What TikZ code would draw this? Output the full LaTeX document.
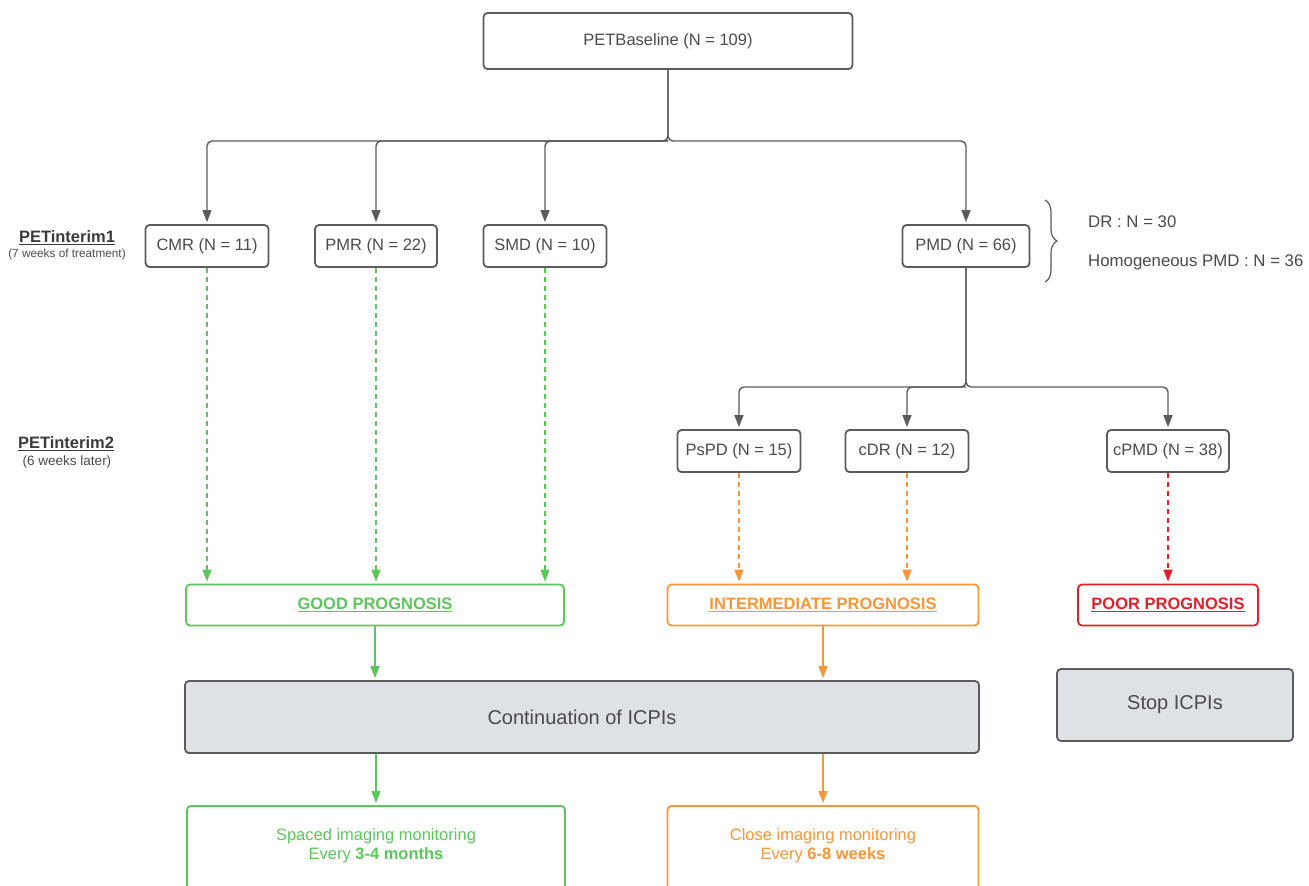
\documentclass[tikz,border=0pt]{standalone}
\usepackage{fontspec}
\setmainfont{Liberation Sans}
\usepackage{xcolor}
\usetikzlibrary{positioning,arrows.meta,calc,decorations.pathreplacing}
\definecolor{linegrey}{HTML}{5B5B5B}
\definecolor{txtgrey}{HTML}{4A4A4A}
\definecolor{goodgreen}{HTML}{5CC65C}
\definecolor{midorange}{HTML}{F7963A}
\definecolor{poorred}{HTML}{E0212B}
\definecolor{panelfill}{HTML}{DEE2E7}
\newcommand{\fs}[1]{\fontsize{#1}{1.2\dimexpr #1pt\relax}\selectfont}

\begin{document}
\begin{tikzpicture}[x=1pt,y=-1pt,
   tip/.style={-{Triangle[length=12pt,width=9pt]},shorten >=2pt},
   conn/.style={draw=linegrey,line width=1.4pt,rounded corners=5pt},
   dashconn/.style={line width=1.4pt,dash pattern=on 5pt off 4pt},
   stagebox/.style={draw=linegrey,line width=1.8pt,rounded corners=4pt,text=txtgrey,
     inner sep=0pt,minimum height=42pt,font=\fs{16.5}},
   progbox/.style={line width=1.8pt,rounded corners=4pt,inner sep=0pt,
     minimum height=41pt,font=\bfseries\fs{16.5}},
   icpibox/.style={draw=linegrey,fill=panelfill,line width=1.8pt,rounded corners=4pt,
     text=txtgrey,inner sep=0pt,minimum height=72pt,font=\fs{20}},
   monbox/.style={line width=1.8pt,rounded corners=4pt,inner sep=0pt,
     minimum height=110pt,anchor=north},
   montext/.style={align=center,font=\fs{16.5},text depth=0pt},
   sidetext/.style={anchor=west,text=txtgrey,font=\fs{16.8},inner sep=0pt}]
  \clip (0,0) rectangle (1309,886);

  % stage labels on the left
  \node[text=txtgrey!80!black,font=\bfseries\fs{16.5}] (int1) at (67,238) {\underline{PETinterim1}};
  \node[text=txtgrey,font=\fs{11.8}] (int1note) at (67,254) {(7 weeks of treatment)};
  \node[text=txtgrey!80!black,font=\bfseries\fs{16.5}] (int2) at (66,444) {\underline{PETinterim2}};
  \node[text=txtgrey,font=\fs{13.5}] (int2note) at (67,462) {(6 weeks later)};

  % boxes
  \node[stagebox,minimum width=369pt,minimum height=56pt] (base) at (668,41) {PETBaseline (N = 109)};
  \node[stagebox,minimum width=123pt] (cmr) at (207,246) {CMR (N = 11)};
  \node[stagebox,minimum width=122pt] (pmr) at (376,246) {PMR (N = 22)};
  \node[stagebox,minimum width=123pt] (smd) at (545,246) {SMD (N = 10)};
  \node[stagebox,minimum width=127pt] (pmd) at (966,246) {PMD (N = 66)};
  \node[stagebox,minimum width=123pt] (pspd) at (739,451) {PsPD (N = 15)};
  \node[stagebox,minimum width=123pt] (cdr) at (907,451) {cDR (N = 12)};
  \node[stagebox,minimum width=122pt] (cpmd) at (1168,451) {cPMD (N = 38)};

  \node[progbox,draw=goodgreen,text=goodgreen,minimum width=378pt] (good) at (375,605) {\underline{GOOD PROGNOSIS}};
  \node[progbox,draw=midorange,text=midorange,minimum width=311pt] (inter) at (823,605) {\underline{INTERMEDIATE PROGNOSIS}};
  \node[progbox,draw=poorred,text=poorred,minimum width=180pt] (poor) at (1168,605) {\underline{POOR PROGNOSIS}};

  \node[icpibox,minimum width=794pt] (cont) at (582,717) {Continuation of ICPIs};
  \node[icpibox,minimum width=236pt] (stop) at (1175,705) {Stop ICPIs};

  \node[monbox,draw=goodgreen,minimum width=378pt] (spaced) at (376,805) {};
  \node[montext,text=goodgreen] (spacedtxt) at (376,844) {Spaced imaging monitoring\\Every \textbf{3-4 months}};
  \node[monbox,draw=midorange,minimum width=311pt] (close) at (823,805) {};
  \node[montext,text=midorange] (closetxt) at (823,844) {Close imaging monitoring\\Every \textbf{6-8 weeks}};

  % PMD subgroups
  \coordinate (bracetop) at (1045,200);
  \coordinate (bracebot) at (1045,282);
  \draw[linegrey,line width=1.2pt,decorate,decoration={brace,amplitude=12pt}] (bracetop) -- (bracebot);
  \node[sidetext] (drnote) at (1088,222) {DR : N = 30};
  \node[sidetext] (homnote) at (1088,262) {Homogeneous PMD : N = 36};

  % tree connectors
  \coordinate (split1) at (668,141);
  \coordinate (split2) at (966,387);
  \draw[conn,tip] (base.south) -- (split1) -| (cmr.north);
  \draw[conn,tip] (split1) -| (pmr.north);
  \draw[conn,tip] (split1) -| (smd.north);
  \draw[conn,tip] (base.south) -- (split1) -| (pmd.north);
  \draw[conn,tip] (pmd.south) -- (split2) -| (pspd.north);
  \draw[conn,tip] (split2) -| (cdr.north);
  \draw[conn,tip] (pmd.south) -- (split2) -| (cpmd.north);

  % outcome arrows
  \foreach \src in {cmr,pmr,smd}
    \draw[dashconn,goodgreen,tip] (\src.south) -- (\src.south |- good.north);
  \foreach \src in {pspd,cdr}
    \draw[dashconn,midorange,tip] (\src.south) -- (\src.south |- inter.north);
  \draw[dashconn,poorred,tip] (cpmd.south) -- (poor.north);

  \draw[goodgreen,line width=1.4pt,tip] (good.south) -- (good.south |- cont.north);
  \draw[midorange,line width=1.4pt,tip] (inter.south) -- (inter.south |- cont.north);
  \draw[goodgreen,line width=1.4pt,tip] (cont.south -| spaced.north) -- (spaced.north);
  \draw[midorange,line width=1.4pt,tip] (cont.south -| close.north) -- (close.north);
\end{tikzpicture}
\end{document}
